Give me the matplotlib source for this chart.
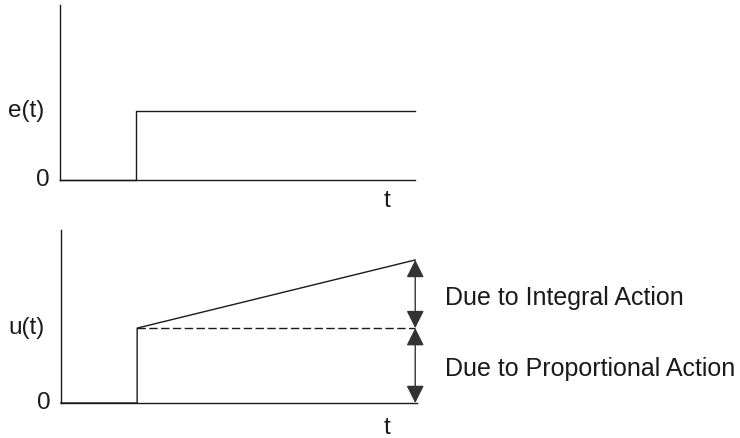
import matplotlib.pyplot as plt

# Step input e(t) and PI controller output u(t)
t_step = 2.15
t_end = 10.0

e_t = [0, t_step, t_step, t_end]
e_vals = [0, 0, 1.0, 1.0]

u_t = [0, t_step, t_step, t_end]
u_vals = [0, 0, 1.0, 1.91]

prop_t = [t_step, t_end]
prop_vals = [1.0, 1.0]

W, H = 740, 438
plt.rcParams['font.family'] = ['Liberation Sans', 'DejaVu Sans']
fig = plt.figure(figsize=(W / 100, H / 100), dpi=100)

ink = '#1a1a1a'
fs = 17.5


def px_axes(left, right, top, bottom):
    return fig.add_axes([left / W, 1 - bottom / H, (right - left) / W, (bottom - top) / H])


def style(ax):
    for s in ['top', 'right']:
        ax.spines[s].set_visible(False)
    for s in ['left', 'bottom']:
        ax.spines[s].set_color(ink)
        ax.spines[s].set_linewidth(1.0)
    ax.set_xticks([])
    ax.set_yticks([])
    ax.patch.set_alpha(0)


# top: e(t)
ax1 = px_axes(60, 415, 5, 180)
style(ax1)
ax1.plot(e_t, e_vals, color=ink, lw=1.0, clip_on=False)
ax1.set_xlim(0, t_end)
ax1.set_ylim(0, 2.54)
ax1.text(-0.045, 1.0, 'e(t)', transform=ax1.get_yaxis_transform(), ha='right', va='center', fontsize=fs, color=ink)
ax1.text(-0.03, 0, '0', transform=ax1.get_yaxis_transform(), ha='right', va='center', fontsize=fs, color=ink)
ax1.text(9.2, -0.3, 't', ha='center', va='center', fontsize=fs, color=ink)

# bottom: u(t)
ax2 = px_axes(61, 417, 230, 403)
style(ax2)
ax2.plot(u_t, u_vals, color=ink, lw=1.0, clip_on=False)
ax2.plot(prop_t, prop_vals, color=ink, lw=1.0, ls=(0, (6, 2.5)), clip_on=False)
ax2.set_xlim(0, 10.05)
ax2.set_ylim(0, 2.31)
ax2.text(-0.045, 1.0, 'u(t)', transform=ax2.get_yaxis_transform(), ha='right', va='center', fontsize=fs, color=ink)
ax2.text(-0.03, 0, '0', transform=ax2.get_yaxis_transform(), ha='right', va='center', fontsize=fs, color=ink)
ax2.text(9.2, -0.33, 't', ha='center', va='center', fontsize=fs, color=ink)

arrow = dict(arrowstyle='<|-|>,head_width=0.3,head_length=0.6', color='#333333', lw=1.0,
             mutation_scale=18, shrinkA=0, shrinkB=0)
ax2.annotate('', xy=(t_end, u_vals[-1]), xytext=(t_end, prop_vals[-1]), arrowprops=arrow, annotation_clip=False)
ax2.annotate('', xy=(t_end, prop_vals[-1]), xytext=(t_end, 0), arrowprops=arrow, annotation_clip=False)

ax2.text(10.85, 1.4, 'Due to Integral Action', ha='left', va='center', fontsize=18, color=ink)
ax2.text(10.85, 0.45, 'Due to Proportional Action', ha='left', va='center', fontsize=18, color=ink)

fig.savefig('out.png', dpi=100)
